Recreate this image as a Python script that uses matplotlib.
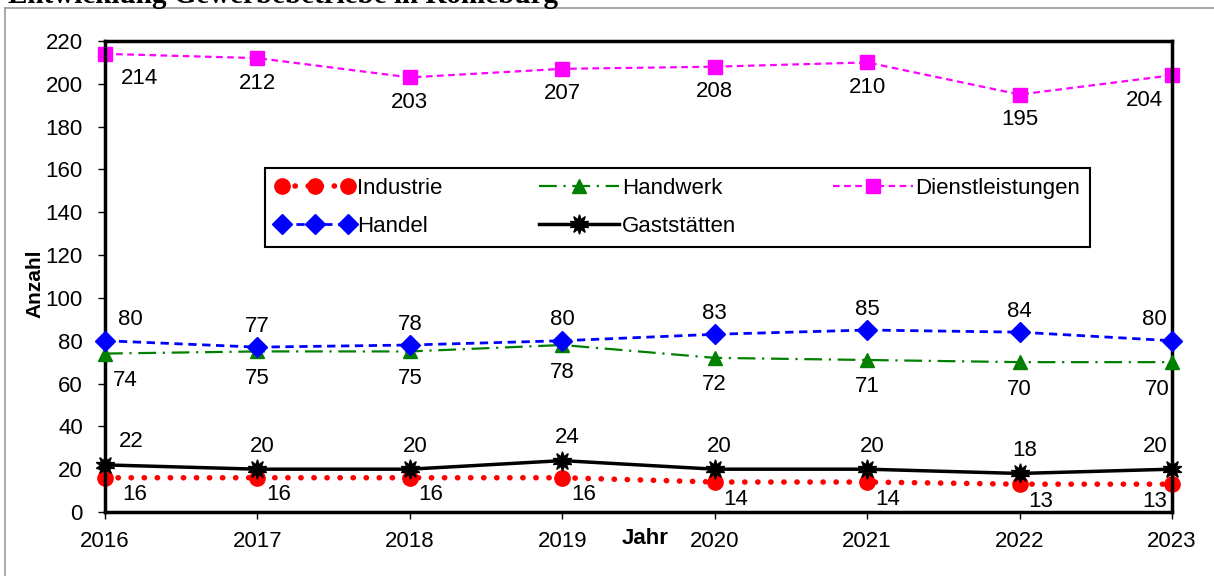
import matplotlib.pyplot as plt
from matplotlib.lines import Line2D
from matplotlib.legend_handler import HandlerLine2D

plt.rcParams['font.family'] = ['Liberation Sans', 'DejaVu Sans']

# data
jahre = [2016, 2017, 2018, 2019, 2020, 2021, 2022, 2023]
industrie = [16, 16, 16, 16, 14, 14, 13, 13]
handel = [80, 77, 78, 80, 83, 85, 84, 80]
handwerk = [74, 75, 75, 78, 72, 71, 70, 70]
gaststaetten = [22, 20, 20, 24, 20, 20, 18, 20]
dienstleistungen = [214, 212, 203, 207, 208, 210, 195, 204]

fig = plt.figure(figsize=(12.14, 5.76), dpi=100)
ax = fig.add_axes([105/1214, 64/576, 1067/1214, 471/576])

# outer grey frame (only top and left edge visible)
fig.add_artist(Line2D([5/1214, 1], [568/576, 568/576], color='#9a9a9a', lw=1.2))
fig.add_artist(Line2D([5/1214, 5/1214], [0, 568/576], color='#9a9a9a', lw=1.2))
fig.text(8/1214, 1 - 3/576, 'Entwicklung Gewerbebetriebe in Romeburg',
         family='Liberation Serif', fontweight='bold', fontsize=21, va='baseline', ha='left')

px = 72/100.  # pixel -> points

# label offsets: (dx first, dx middle, dx last, dy) in pixels
series = [
    ('Industrie', industrie, dict(color='red', ls=(0, (0.05, 2.3)), lw=4, marker='o', ms=11,
                                  dash_capstyle='round', solid_capstyle='round'), (30, 21, -17, 17), 2),
    ('Handel', handel, dict(color='#0000ff', ls=(0, (3, 2)), lw=2, marker='D', ms=10), (25, 0, -18, -21), 4),
    ('Handwerk', handwerk, dict(color='#008000', ls=(0, (8, 3, 1, 3)), lw=1.6, marker='^', ms=10), (20, 0, -15, 27), 3),
    ('Gaststätten', gaststaetten, dict(color='black', ls='-', lw=2.5, marker=(10, 1, 0), ms=14), (26, 5, -17, -23), 5),
    ('Dienstleistungen', dienstleistungen, dict(color='#ff00ff', ls=(0, (3, 2)), lw=1.6, marker='s', ms=10), (35, 0, -28, 25), 1),
]

lines = []
for name, vals, st, off, z in series:
    ln, = ax.plot(jahre, vals, label=name, clip_on=False, zorder=z, **st)
    lines.append(ln)
    for i, (x, y) in enumerate(zip(jahre, vals)):
        dx = off[0] if i == 0 else (off[2] if i == len(jahre) - 1 else off[1])
        ax.annotate(str(y), (x, y), xytext=(dx*px, -off[3]*px), textcoords='offset points',
                    ha='center', va='center', fontsize=16)

ax.set_xlim(2016, 2023)
ax.set_ylim(0, 220)
ax.set_xticks(jahre)
ax.set_yticks(range(0, 221, 20))
ax.tick_params(labelsize=16, length=5, width=1, direction='out')
ax.tick_params(axis='y', pad=11)
ax.tick_params(axis='x', pad=9)
for s in ax.spines.values():
    s.set_linewidth(2.5)

ax.text((645-105)/1067, (512-539)/471, 'Jahr', transform=ax.transAxes, ha='center', va='center',
        fontsize=16, fontweight='bold')
ax.text((35-105)/1067, (512-284)/471, 'Anzahl', transform=ax.transAxes, ha='center', va='center',
        fontsize=15, fontweight='bold', rotation=90)

hmap = {lines[0]: HandlerLine2D(numpoints=3), lines[1]: HandlerLine2D(numpoints=3)}
leg = ax.legend(handles=lines, ncol=3, loc='upper left', handler_map=hmap,
                bbox_to_anchor=(0.15, 0.567, 0.773, 0.163), mode='expand', fontsize=16,
                fancybox=False, framealpha=1, edgecolor='black', handlelength=3.6,
                handletextpad=0.1, borderaxespad=0, borderpad=0.45, labelspacing=0.75)
leg.get_frame().set_linewidth(1.5)

fig.savefig('out.png', dpi=100)
